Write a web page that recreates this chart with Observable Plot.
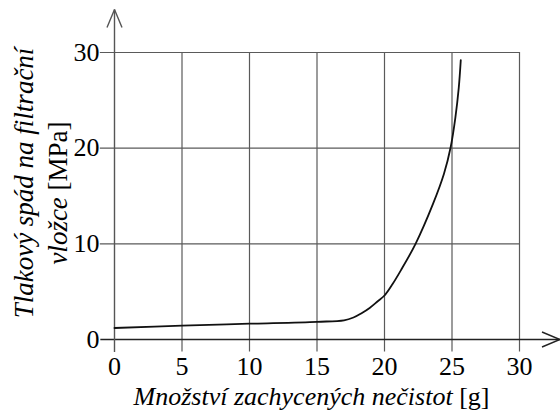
<!DOCTYPE html>
<html>
<head>
<meta charset="utf-8">
<script src="https://cdn.jsdelivr.net/npm/d3@7"></script>
<script src="https://cdn.jsdelivr.net/npm/@observablehq/plot@0.6"></script>
<style>
  html, body { margin: 0; padding: 0; background: white; }
  svg text { font-family: "Liberation Serif", Tinos, "Times New Roman", serif !important; }
</style>
</head>
<body>
<div id="chart"></div>
<script>
// Data
const massG = [0, 5, 10, 15, 17, 17.7, 18.3, 18.9, 19.5, 20, 20.6, 21.2, 22.3, 23.6, 24.4, 24.9, 25.25, 25.5, 25.65];
const pressureMPa = [1.2, 1.45, 1.65, 1.85, 2.0, 2.3, 2.75, 3.3, 4.0, 4.6, 5.8, 7.2, 10, 14.2, 17.3, 20.1, 23.2, 26.3, 29.2];
const xTicks = [0, 5, 10, 15, 20, 25, 30];
const yTicks = [0, 10, 20, 30];
const xLabelItalic = "Množství zachycených nečistot";
const xLabelUnit = " [g]";
const yLabelLine1 = "Tlakový spád na filtrační";
const yLabelLine2Italic = "vložce";
const yLabelLine2Unit = " [MPa]";

const data = massG.map((x, i) => ({x, y: pressureMPa[i]}));
const gridY = yTicks.filter(d => d !== 0);

function openArrow(color, context) {
  const doc = (context && context.document) || document;
  const m = d3.select(doc.createElementNS("http://www.w3.org/2000/svg", "marker"))
    .attr("viewBox", "-20 -10 22 20")
    .attr("markerWidth", 22)
    .attr("markerHeight", 20)
    .attr("markerUnits", "userSpaceOnUse")
    .attr("orient", "auto")
    .attr("overflow", "visible")
    .attr("fill", "none")
    .attr("stroke", color)
    .attr("stroke-width", 1.4);
  m.append("path").attr("d", "M-18,-7.5L0,0L-18,7.5");
  return m.node();
}

const gridColor = "#5a5a5a";
const font = "Liberation Serif, Tinos, Times New Roman, serif";

const chart = Plot.plot({
  width: 560,
  height: 412,
  marginLeft: 114,
  marginRight: 41,
  marginTop: 52,
  marginBottom: 73,
  style: {fontFamily: font, fontSize: "26px", background: "white", color: "black"},
  x: {domain: [0, 30], axis: null},
  y: {domain: [0, 30], axis: null},
  marks: [
    Plot.ruleX(xTicks.filter(d => d !== 0), {x: d => d, y1: -1.3, y2: 30, stroke: gridColor, strokeWidth: 1.2}),
    Plot.ruleY(gridY, {y: d => d, x1: -1.05, x2: 30, stroke: gridColor, strokeWidth: 1.2}),
    Plot.link([{x1: -1.05, y1: 0, x2: 33, y2: 0}], {x1: "x1", y1: "y1", x2: "x2", y2: "y2", stroke: "#222", strokeWidth: 1.3, markerEnd: openArrow}),
    Plot.link([{x1: 0, y1: -1.3, x2: 0, y2: 34.5}], {x1: "x1", y1: "y1", x2: "x2", y2: "y2", stroke: "#555", strokeWidth: 1.4, markerEnd: openArrow}),
    Plot.line(data, {x: "x", y: "y", stroke: "#111", strokeWidth: 1.8, curve: "catmull-rom"}),
    Plot.axisX(xTicks, {tickSize: 0, tickPadding: 17, fontSize: 26, label: null}),
    Plot.axisY(yTicks, {tickSize: 0, tickPadding: 15, fontSize: 26, label: null})
  ]
});

document.getElementById("chart").appendChild(chart);

const sx = chart.scale("x");
const svg = d3.select(chart);
const xMid = (sx.apply(0) + sx.apply(30)) / 2;

const xl = svg.append("text")
  .attr("x", xMid - 5)
  .attr("y", 405)
  .attr("text-anchor", "middle")
  .attr("font-size", 26)
  .attr("fill", "black");
xl.append("tspan").attr("font-style", "italic").text(xLabelItalic);
xl.append("tspan").text(xLabelUnit);

svg.append("text")
  .attr("transform", `translate(33,183) rotate(-90)`)
  .attr("text-anchor", "middle")
  .attr("font-size", 27)
  .attr("font-style", "italic")
  .attr("fill", "black")
  .text(yLabelLine1);

const yl2 = svg.append("text")
  .attr("transform", `translate(67,193) rotate(-90)`)
  .attr("text-anchor", "middle")
  .attr("font-size", 27)
  .attr("fill", "black");
yl2.append("tspan").attr("font-style", "italic").text(yLabelLine2Italic);
yl2.append("tspan").text(yLabelLine2Unit);
</script>
</body>
</html>
